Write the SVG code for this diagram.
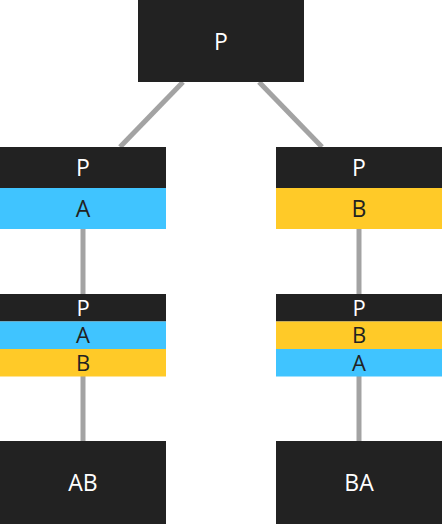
<svg xmlns="http://www.w3.org/2000/svg" width="442" height="524" viewBox="0 0 442 524">
<style>
.dark{fill:#222222;}
.blue{fill:#40C4FF;}
.yel{fill:#FFCA28;}
.edge{stroke:#A3A3A3;stroke-width:5;fill:none;}
text{font-family:"Open Sans","Noto Sans","Liberation Sans",sans-serif;font-size:23px;text-anchor:middle;}
.sm{font-size:22px;}
.lt{fill:#FFFFFF;}
.dk{fill:#222222;}
</style>
<rect width="442" height="524" fill="#FFFFFF"/>
<g id="connectors">
<line class="edge" x1="183" y1="82" x2="120" y2="147"/>
<line class="edge" x1="259" y1="82" x2="322" y2="147"/>
<line class="edge" x1="83" y1="229" x2="83" y2="294"/>
<line class="edge" x1="83" y1="376" x2="83" y2="441"/>
<line class="edge" x1="359" y1="229" x2="359" y2="294"/>
<line class="edge" x1="359" y1="376" x2="359" y2="441"/>
</g>
<g id="root">
<rect class="dark" x="138" y="0" width="166" height="82"/>
<text class="lt" x="221" y="49.5">P</text>
</g>
<g id="left1">
<rect class="dark" x="0" y="147" width="166" height="41"/>
<text class="lt" x="83" y="176">P</text>
<rect class="blue" x="0" y="188" width="166" height="41"/>
<text class="dk" x="83" y="217">A</text>
</g>
<g id="right1">
<rect class="dark" x="276" y="147" width="166" height="41"/>
<text class="lt" x="359" y="176">P</text>
<rect class="yel" x="276" y="188" width="166" height="41"/>
<text class="dk" x="359" y="217">B</text>
</g>
<g id="left2">
<rect class="dark" x="0" y="294" width="166" height="27.5"/>
<text class="lt sm" x="83" y="315.5">P</text>
<rect class="blue" x="0" y="321.5" width="166" height="27.5"/>
<text class="dk sm" x="83" y="343">A</text>
<rect class="yel" x="0" y="349" width="166" height="27.5"/>
<text class="dk sm" x="83" y="370.5">B</text>
</g>
<g id="right2">
<rect class="dark" x="276" y="294" width="166" height="27.5"/>
<text class="lt sm" x="359" y="315.5">P</text>
<rect class="yel" x="276" y="321.5" width="166" height="27.5"/>
<text class="dk sm" x="359" y="343">B</text>
<rect class="blue" x="276" y="349" width="166" height="27.5"/>
<text class="dk sm" x="359" y="370.5">A</text>
</g>
<g id="leftLeaf">
<rect class="dark" x="0" y="441" width="166" height="83"/>
<text class="lt" x="83" y="491">AB</text>
</g>
<g id="rightLeaf">
<rect class="dark" x="276" y="441" width="166" height="83"/>
<text class="lt" x="359" y="491">BA</text>
</g>
</svg>
